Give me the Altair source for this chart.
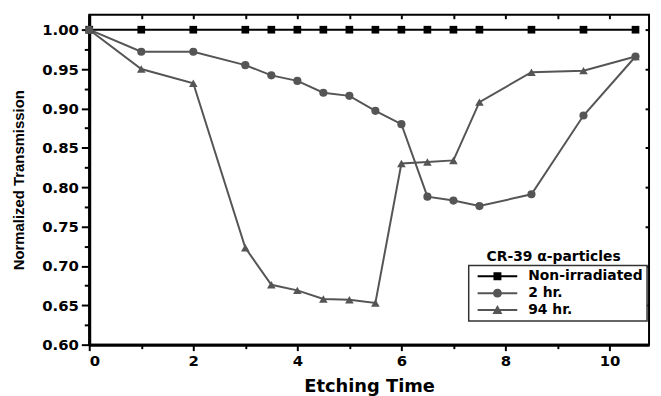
import altair as alt
import pandas as pd

# ---- data ----
times = [0, 1, 2, 3, 3.5, 4, 4.5, 5, 5.5, 6, 6.5, 7, 7.5, 8.5, 9.5, 10.5]
non_irradiated = [1.0, 1.0, 1.0, 1.0, 1.0, 1.0, 1.0, 1.0, 1.0, 1.0, 1.0, 1.0, 1.0, 1.0, 1.0, 1.0]
hr2 = [1.0, 0.972, 0.972, 0.955, 0.942, 0.935, 0.920, 0.916, 0.897, 0.880,
       0.788, 0.783, 0.776, 0.791, 0.891, 0.966]
hr94 = [1.0, 0.950, 0.932, 0.723, 0.676, 0.669, 0.658, 0.657, 0.653, 0.830,
        0.832, 0.834, 0.908, 0.946, 0.948, 0.966]
series_names = ["Non-irradiated", "2 hr.", "94 hr."]
legend_title = "CR-39 α-particles"

x_major = [0, 2, 4, 6, 8, 10]
x_minor = [1, 3, 5, 7, 9]
x_top = [1, 2, 3, 4, 5, 6, 7, 8, 9, 10]
y_major = [0.60, 0.65, 0.70, 0.75, 0.80, 0.85, 0.90, 0.95, 1.00]
y_minor = [0.625, 0.675, 0.725, 0.775, 0.825, 0.875, 0.925, 0.975]

# ---- styles ----
series_colors = ["#000000", "#555555", "#555555"]
series_shapes = ["square", "circle", "triangle-up"]
series_sizes = [60, 75, 90]
LINE = "M-4,-0.2H4V0.2H-4Z "
legend_shapes = [
    LINE + "M-0.8,-0.8H0.8V0.8H-0.8Z",
    LINE + "M0.9,0A0.9,0.9,0,1,1,-0.9,0A0.9,0.9,0,1,1,0.9,0Z",
    LINE + "M0,-1L1,0.8L-1,0.8Z",
]

rows = []
for name, vals in zip(series_names, [non_irradiated, hr2, hr94]):
    for t, v in zip(times, vals):
        rows.append({"time": t, "value": v, "series": name, "note": legend_title})
df = pd.DataFrame(rows)

FONT = "DejaVu Sans"
xscale = alt.Scale(domain=[0, 10.76], nice=False, zero=False)
yscale = alt.Scale(domain=[0.60, 1.019], nice=False, zero=False)
cscale = alt.Scale(domain=series_names, range=series_colors)

lines = alt.Chart(df).mark_line(strokeWidth=2).encode(
    x=alt.X("time:Q", scale=xscale, axis=alt.Axis(
        orient="bottom", values=x_major, title="Etching Time", grid=False,
        tickSize=6, tickWidth=2, tickColor="black", domainColor="black", domainWidth=3,
        labelFont=FONT, labelFontSize=15, labelFontWeight="bold", labelColor="black",
        labelPadding=3, titleFont=FONT, titleFontSize=18, titleFontWeight="bold",
        titleColor="black", titlePadding=9)),
    y=alt.Y("value:Q", scale=yscale, axis=alt.Axis(
        orient="left", values=y_major, format=".2f", title="Normalized Transmission",
        grid=False, tickSize=8, tickWidth=2, tickColor="black", domainColor="black",
        domainWidth=3, labelFont=FONT, labelFontSize=15, labelFontWeight="bold",
        labelColor="black", labelPadding=3, titleFont="Liberation Sans",
        titleFontSize=15, titleFontWeight="bold", titleColor="black", titlePadding=15)),
    color=alt.Color("series:N", scale=cscale, legend=None),
    detail="series:N",
)

points = alt.Chart(df).mark_point(filled=True, opacity=1).encode(
    x=alt.X("time:Q", scale=xscale, axis=alt.Axis(
        orient="bottom", values=x_minor, labels=False, title=None, domain=False,
        grid=False, tickSize=4, tickWidth=2, tickColor="black")),
    y=alt.Y("value:Q", scale=yscale, axis=alt.Axis(
        orient="left", values=y_minor, labels=False, title=None, domain=False,
        grid=False, tickSize=5, tickWidth=2, tickColor="black")),
    color=alt.Color("series:N", scale=cscale, legend=None),
    shape=alt.Shape("series:N", scale=alt.Scale(domain=series_names, range=series_shapes), legend=None),
    size=alt.Size("series:N", scale=alt.Scale(domain=series_names, range=series_sizes), legend=None),
)

mirror = alt.Chart(df).mark_point(opacity=0).encode(
    x=alt.X("time:Q", scale=xscale, axis=alt.Axis(
        orient="top", values=x_top, labels=False, title=None, domain=False,
        grid=False, tickSize=4, tickWidth=2, tickColor="black", offset=-4)),
    y=alt.Y("value:Q", scale=yscale, axis=alt.Axis(
        orient="right", values=y_major, labels=False, title=None, domain=False,
        grid=False, tickSize=4, tickWidth=2, tickColor="black", offset=-4)),
)

legend_props = dict(
    title=None, orient="none", legendX=383, legendY=253,
    strokeColor="#333333", fillColor="white", padding=4,
    labelFont=FONT, labelFontSize=14, labelFontWeight="bold", labelColor="black",
    symbolSize=100, symbolStrokeWidth=0, symbolOffset=18, labelOffset=24,
    rowPadding=3,
)

# legend carrying the three series (boxed)
legend_series = alt.Chart(df).transform_filter("false").mark_point(filled=True, opacity=1).encode(
    x=alt.X("time:Q", scale=xscale, axis=None),
    y=alt.Y("value:Q", scale=yscale, axis=None),
    color=alt.Color("series:N", scale=cscale, legend=alt.Legend(**legend_props)),
    shape=alt.Shape("series:N", scale=alt.Scale(domain=series_names, range=legend_shapes),
                    legend=alt.Legend(**legend_props)),
)

# legend heading above the box
legend_head = alt.Chart(df).transform_filter("false").mark_point(filled=True, opacity=1).encode(
    x=alt.X("time:Q", scale=xscale, axis=None),
    y=alt.Y("value:Q", scale=yscale, axis=None),
    color=alt.Color("note:N", scale=alt.Scale(domain=[legend_title], range=["white"]),
                    legend=alt.Legend(title=None, orient="none", legendX=387, legendY=238,
                                      padding=0, symbolSize=1, symbolStrokeWidth=0,
                                      symbolOffset=0, labelOffset=0,
                                      labelFont=FONT, labelFontSize=14, labelFontWeight="bold",
                                      labelColor="black")),
)

chart = alt.layer(lines, points, mirror, legend_series, legend_head).resolve_axis(
    x="independent", y="independent"
).resolve_scale(
    x="shared", y="shared", color="independent", shape="independent", size="independent"
).resolve_legend(color="independent", shape="independent").properties(
    width=565, height=333,
    autosize=alt.AutoSizeParams(type="none"),
    padding={"left": 82, "top": 5, "right": 4, "bottom": 50},
    background="white",
).configure_view(stroke="black", strokeWidth=2).configure_legend(strokeWidth=1.5)

chart.save("out.html", embed_options={"renderer": "svg", "actions": False})
